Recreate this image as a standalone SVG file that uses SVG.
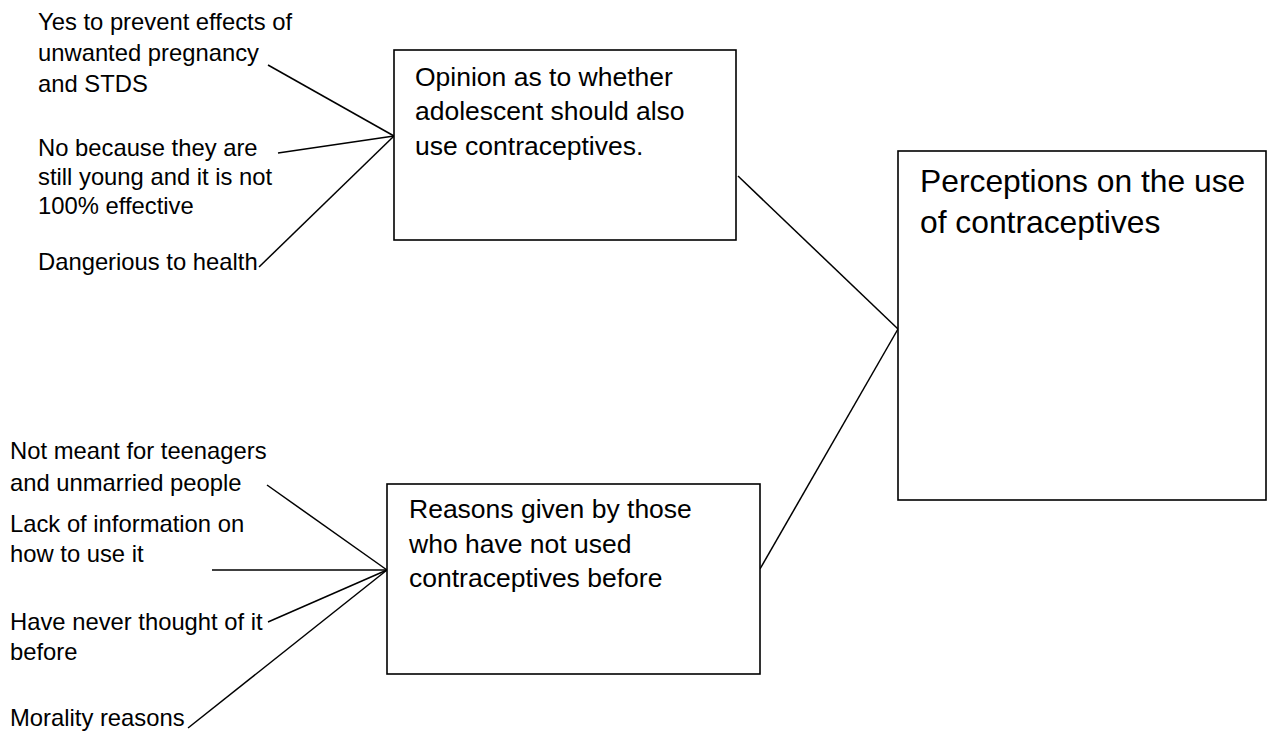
<svg xmlns="http://www.w3.org/2000/svg" width="1270" height="738" viewBox="0 0 1270 738">
  <style>
    .box { fill: #ffffff; stroke: #000000; stroke-width: 1.6; }
    .conn line { stroke: #000000; stroke-width: 1.5; }
    text { font-family: "Liberation Sans", Arial, sans-serif; fill: #000000; }
    .lbl { font-size: 23.8px; }
    .btx { font-size: 26.5px; }
    .big { font-size: 31.8px; }
  </style>
  <rect width="1270" height="738" fill="#ffffff"/>

  <g id="connectors" class="conn">
    <line x1="268" y1="65" x2="394" y2="136"/>
    <line x1="278" y1="153" x2="394" y2="136"/>
    <line x1="259" y1="267" x2="394" y2="136"/>
    <line x1="267" y1="485" x2="387" y2="570"/>
    <line x1="212" y1="570" x2="387" y2="570"/>
    <line x1="268" y1="622" x2="387" y2="570"/>
    <line x1="188" y1="728" x2="387" y2="570"/>
    <line x1="738" y1="176" x2="898" y2="329"/>
    <line x1="760" y1="569" x2="898" y2="329"/>
  </g>

  <g id="node-opinion">
    <rect class="box" x="394" y="50" width="342" height="190"/>
    <text class="btx"><tspan x="415" y="85.5">Opinion as to whether</tspan><tspan x="415" y="120">adolescent should also</tspan><tspan x="415" y="154.5">use contraceptives.</tspan></text>
  </g>

  <g id="node-reasons">
    <rect class="box" x="387" y="484" width="373" height="190"/>
    <text class="btx"><tspan x="409" y="518">Reasons given by those</tspan><tspan x="409" y="552.5">who have not used</tspan><tspan x="409" y="587">contraceptives before</tspan></text>
  </g>

  <g id="node-perceptions">
    <rect class="box" x="898" y="151" width="368" height="349"/>
    <text class="big"><tspan x="920" y="192">Perceptions on the use</tspan><tspan x="920" y="233">of contraceptives</tspan></text>
  </g>

  <g id="label-yes">
    <text class="lbl"><tspan x="38" y="29.5">Yes to prevent effects of</tspan><tspan x="38" y="60.5">unwanted pregnancy</tspan><tspan x="38" y="91.5">and STDS</tspan></text>
  </g>
  <g id="label-no">
    <text class="lbl"><tspan x="38" y="156">No because they are</tspan><tspan x="38" y="185">still young and it is not</tspan><tspan x="38" y="214">100% effective</tspan></text>
  </g>
  <g id="label-dangerous">
    <text class="lbl"><tspan x="38" y="270">Dangerious to health</tspan></text>
  </g>
  <g id="label-not-meant">
    <text class="lbl"><tspan x="10" y="459">Not meant for teenagers</tspan><tspan x="10" y="491">and unmarried people</tspan></text>
  </g>
  <g id="label-lack">
    <text class="lbl"><tspan x="10" y="532">Lack of information on</tspan><tspan x="10" y="562">how to use it</tspan></text>
  </g>
  <g id="label-never">
    <text class="lbl"><tspan x="10" y="630">Have never thought of it</tspan><tspan x="10" y="660">before</tspan></text>
  </g>
  <g id="label-morality">
    <text class="lbl"><tspan x="10" y="726">Morality reasons</tspan></text>
  </g>
</svg>
